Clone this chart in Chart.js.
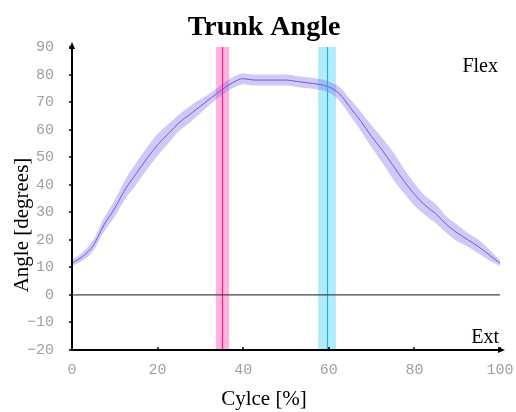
<!DOCTYPE html>
<html>
<head>
<meta charset="utf-8">
<title>Trunk Angle</title>
<script src="https://cdn.jsdelivr.net/npm/chart.js@4"></script>
<style>
  body { margin: 0; background: #fff; }
  canvas { display: block; }
</style>
</head>
<body>
<canvas id="trunk-chart" width="516" height="412"></canvas>
<script>
// Gait cycle [%] and trunk angle (mean +/- spread)
const cycle = [0, 2.5, 5, 7.5, 10, 12.5, 15, 17.5, 20, 22.5, 25, 27.5, 30, 32.5, 35, 37.5, 40, 42.5, 45, 47.5, 50,
    52.5, 55, 57.5, 60, 62.5, 65, 67.5, 70, 72.5, 75, 77.5, 80, 82.5, 85, 87.5, 90, 92.5, 95, 97.5, 100];
const meanAngle = [11.5, 14, 18, 25.5, 31.5, 38.5, 44, 49.5, 54.5, 58.5, 62.5, 65.5, 68.5, 71.5, 74.5, 77, 78.5, 78, 78, 78, 78,
    77.5, 77, 76.5, 75.5, 73, 68, 63, 57.5, 52.5, 47, 41.5, 36.5, 32.5, 29.5, 25.5, 22.5, 20, 17.5, 14.5, 11.5];
const spread = [1, 1.5, 2, 2.5, 3, 3.5, 4, 4, 4, 3.5, 3, 3, 2.5, 2, 2, 2, 2, 2, 2, 2, 2,
    2, 2, 2, 2, 2.5, 3, 3.5, 4, 4.5, 5, 4.5, 4, 3.5, 3.5, 3, 3, 2.5, 2.5, 2, 1];

// events (toe off etc.): start, mean, end of the shaded range
const eventStart = [33.6, 57.5];
const eventMean = [35.0, 59.6];
const eventEnd = [36.7, 61.7];
const eventFill = ['#ffb3de', '#b2ecfa'];
const eventLine = ['#ff1a8c', '#1ab2e6'];

const yTicks = [-20, -10, 0, 10, 20, 30, 40, 50, 60, 70, 80, 90];
const xTicks = [0, 20, 40, 60, 80, 100];

const toPoints = arr => cycle.map((c, i) => ({ x: c, y: arr[i] }));

const upper = toPoints(meanAngle.map((m, i) => m + spread[i]));
const lower = toPoints(meanAngle.map((m, i) => m - spread[i]));
const mean = toPoints(meanAngle);

const SERIF = '"Liberation Serif", "Times New Roman", serif';
const MONO = '"Liberation Mono", "Courier New", monospace';

// event ranges behind the curve, lines/axes/labels on top
const decorations = {
    id: 'decorations',
    beforeDatasetsDraw(chart) {
        const { ctx, chartArea: a, scales: { x } } = chart;
        ctx.save();
        eventStart.forEach((s, i) => {
            const x0 = x.getPixelForValue(s);
            const x1 = x.getPixelForValue(eventEnd[i]);
            ctx.fillStyle = eventFill[i];
            ctx.fillRect(x0, a.top, x1 - x0, a.bottom - a.top);
        });
        ctx.restore();
    },
    afterDatasetsDraw(chart) {
        const { ctx, chartArea: a, scales: { x, y } } = chart;
        ctx.save();

        eventMean.forEach((m, i) => {
            const px = Math.round(x.getPixelForValue(m)) + 0.5;
            ctx.strokeStyle = eventLine[i];
            ctx.lineWidth = 1.2;
            ctx.beginPath();
            ctx.moveTo(px, a.top);
            ctx.lineTo(px, a.bottom);
            ctx.stroke();
        });

        // zero line
        const y0 = y.getPixelForValue(0);
        ctx.strokeStyle = '#444';
        ctx.lineWidth = 1.2;
        ctx.beginPath();
        ctx.moveTo(a.left, y0);
        ctx.lineTo(a.right, y0);
        ctx.stroke();

        // axes with arrow heads
        ctx.strokeStyle = '#000';
        ctx.fillStyle = '#000';
        ctx.lineWidth = 2;
        ctx.beginPath();
        ctx.moveTo(a.left, a.bottom);
        ctx.lineTo(a.left, a.top - 2);
        ctx.moveTo(a.left - 1, a.bottom);
        ctx.lineTo(a.right + 2, a.bottom);
        ctx.stroke();
        ctx.beginPath();
        ctx.moveTo(a.left, a.top - 5);
        ctx.lineTo(a.left - 3, a.top + 2);
        ctx.lineTo(a.left + 3, a.top + 2);
        ctx.closePath();
        ctx.fill();
        ctx.beginPath();
        ctx.moveTo(a.right + 5, a.bottom);
        ctx.lineTo(a.right - 2, a.bottom - 3);
        ctx.lineTo(a.right - 2, a.bottom + 3);
        ctx.closePath();
        ctx.fill();

        // tick marks
        ctx.lineWidth = 1.5;
        ctx.beginPath();
        yTicks.forEach(t => {
            const py = Math.round(y.getPixelForValue(t));
            ctx.moveTo(a.left - 3, py);
            ctx.lineTo(a.left, py);
        });
        xTicks.forEach(t => {
            const px = Math.round(x.getPixelForValue(t));
            ctx.moveTo(px, a.bottom);
            ctx.lineTo(px, a.bottom - 3);
        });
        ctx.stroke();

        // texts
        ctx.fillStyle = '#000';
        ctx.textBaseline = 'alphabetic';
        ctx.font = 'bold 28px ' + SERIF;
        ctx.textAlign = 'center';
        ctx.fillText('Trunk Angle', 264, 35);

        ctx.font = '21px ' + SERIF;
        ctx.fillText('Cylce [%]', 264, 405);

        ctx.save();
        ctx.translate(28, 225);
        ctx.rotate(-Math.PI / 2);
        ctx.fillText('Angle [degrees]', 0, 0);
        ctx.restore();

        ctx.font = '20px ' + SERIF;
        ctx.textAlign = 'right';
        ctx.fillText('Flex', 498, 72);
        ctx.fillText('Ext', 499, 343);

        ctx.restore();
    }
};

const curveStyle = {
    pointRadius: 0,
    cubicInterpolationMode: 'monotone'
};

new Chart(document.getElementById('trunk-chart'), {
    type: 'line',
    data: {
        datasets: [
            {
                ...curveStyle,
                data: mean,
                borderColor: '#6a5be0',
                borderWidth: 1,
                fill: false,
                order: 0
            },
            {
                ...curveStyle,
                data: upper,
                borderWidth: 0,
                borderColor: 'rgba(0,0,0,0)',
                fill: '+1',
                backgroundColor: 'rgba(120,100,225,0.35)',
                order: 1
            },
            {
                ...curveStyle,
                data: lower,
                borderWidth: 0,
                borderColor: 'rgba(0,0,0,0)',
                fill: false,
                order: 2
            }
        ]
    },
    options: {
        responsive: false,
        animation: false,
        layout: { padding: { left: 0, top: 47, right: 16, bottom: 0 } },
        plugins: {
            legend: { display: false },
            tooltip: { enabled: false },
            title: { display: false }
        },
        scales: {
            x: {
                type: 'linear',
                min: 0,
                max: 100,
                grid: { display: false },
                border: { display: false },
                afterFit: s => { s.height = 62; s.paddingLeft = 0; s.paddingRight = 0; },
                afterBuildTicks: s => { s.ticks = xTicks.map(v => ({ value: v })); },
                ticks: {
                    padding: 3,
                    color: '#a0a0a0',
                    font: { family: MONO, size: 15 },
                    maxRotation: 0
                }
            },
            y: {
                min: -20,
                max: 90,
                grid: { display: false },
                border: { display: false },
                afterFit: s => { s.width = 72; s.paddingTop = 0; s.paddingBottom = 0; },
                afterBuildTicks: s => { s.ticks = yTicks.map(v => ({ value: v })); },
                ticks: {
                    padding: 10,
                    color: '#a0a0a0',
                    font: { family: MONO, size: 15 },
                    callback: v => String(v).replace('-', '\u2212')
                }
            }
        }
    },
    plugins: [decorations]
});
</script>
</body>
</html>
